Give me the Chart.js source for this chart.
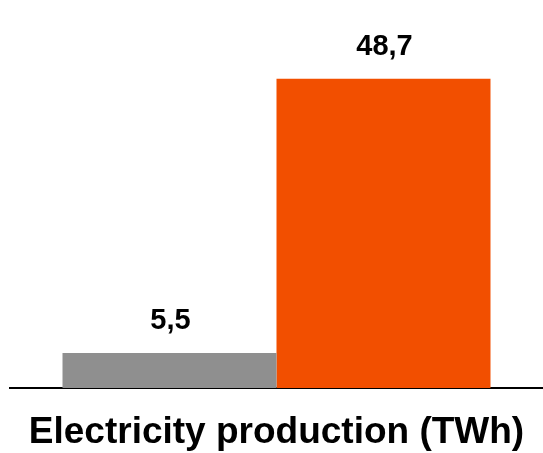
<!DOCTYPE html>
<html>
<head>
<meta charset="utf-8">
<script src="https://cdn.jsdelivr.net/npm/chart.js@4/dist/chart.umd.min.js"></script>
<style>
  html, body { margin: 0; padding: 0; background: #ffffff; }
  #wrap { width: 543px; height: 453px; }
</style>
</head>
<body>
<div id="wrap"><canvas id="chart" width="543" height="453"></canvas></div>
<script>
// Category on the x axis
const categories = ['Electricity production (TWh)'];
// Two series, one bar each
const seriesFirst = [5.5];
const seriesSecond = [48.7];
const seriesColors = ['#8f8f8f', '#f24f00'];

const FONT = '"Liberation Sans", Arial, Helvetica, sans-serif';

// Writes each bar's value above it, with a decimal comma
const valueLabels = {
  id: 'valueLabels',
  afterDatasetsDraw(chart) {
    const ctx = chart.ctx;
    ctx.save();
    ctx.font = 'bold 29px ' + FONT;
    ctx.fillStyle = '#000000';
    ctx.textAlign = 'center';
    ctx.textBaseline = 'middle';
    chart.data.datasets.forEach((ds, i) => {
      const meta = chart.getDatasetMeta(i);
      meta.data.forEach((bar, j) => {
        const v = ds.data[j];
        ctx.fillText(v.toFixed(1).replace('.', ','), bar.x + 1, bar.y - 32);
      });
    });
    ctx.restore();
  }
};

new Chart(document.getElementById('chart'), {
  type: 'bar',
  data: {
    labels: categories,
    datasets: [
      { label: 'A', data: seriesFirst, backgroundColor: seriesColors[0], borderWidth: 0 },
      { label: 'B', data: seriesSecond, backgroundColor: seriesColors[1], borderWidth: 0 }
    ]
  },
  options: {
    responsive: false,
    animation: false,
    layout: { padding: { left: 10, right: 0, top: 7, bottom: 0 } },
    datasets: { bar: { categoryPercentage: 0.803, barPercentage: 1 } },
    plugins: { legend: { display: false }, tooltip: { enabled: false } },
    scales: {
      x: {
        z: 1,
        grid: { display: false, drawTicks: false },
        border: { display: true, color: '#000000', width: 2 },
        ticks: {
          padding: 23,
          color: '#000000',
          font: { family: FONT, size: 37, weight: 'bold', lineHeight: 1.2 }
        },
        afterFit(scale) {
          // the wide category label must not push the plot inwards
          scale.height = 65;
          scale.paddingLeft = 0;
          scale.paddingRight = 0;
        }
      },
      y: {
        display: false,
        min: 0,
        max: 60
      }
    }
  },
  plugins: [valueLabels]
});
</script>
</body>
</html>
